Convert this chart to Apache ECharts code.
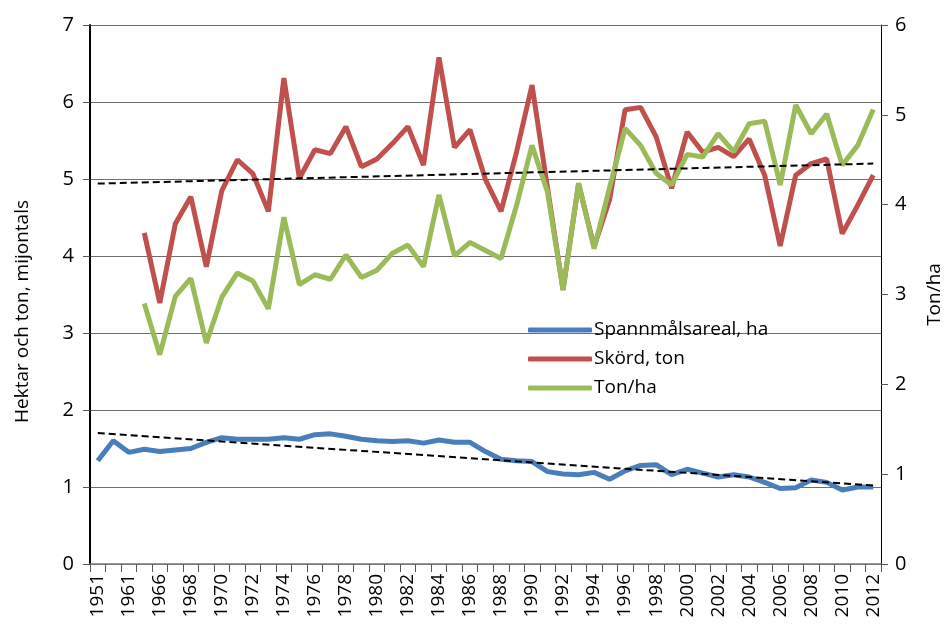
<!DOCTYPE html>
<html>
<head>
<meta charset="utf-8">
<script src="https://cdn.jsdelivr.net/npm/echarts@6/dist/echarts.min.js"></script>
<style>
  html, body { margin: 0; padding: 0; background: #fff; }
  #chart { width: 946px; height: 624px; }
</style>
</head>
<body>
<div id="chart"></div>
<script>
// years on the x axis (only every second label is shown)
var years = ['1951', '1956', '1961', '1965', '1966', '1967', '1968', '1969', '1970', '1971',
  '1972', '1973', '1974', '1975', '1976', '1977', '1978', '1979', '1980', '1981',
  '1982', '1983', '1984', '1985', '1986', '1987', '1988', '1989', '1990', '1991',
  '1992', '1993', '1994', '1995', '1996', '1997', '1998', '1999', '2000', '2001',
  '2002', '2003', '2004', '2005', '2006', '2007', '2008', '2009', '2010', '2011', '2012'];

// Spannmålsareal, ha (miljoner) - left axis
var areal = [1.34, 1.60, 1.45, 1.49, 1.46, 1.48, 1.50, 1.58, 1.64, 1.62,
  1.62, 1.62, 1.64, 1.62, 1.68, 1.69, 1.66, 1.62, 1.60, 1.59,
  1.60, 1.57, 1.61, 1.58, 1.58, 1.46, 1.36, 1.34, 1.33, 1.20,
  1.17, 1.16, 1.19, 1.10, 1.21, 1.28, 1.29, 1.16, 1.23, 1.18,
  1.13, 1.16, 1.13, 1.06, 0.98, 0.99, 1.09, 1.06, 0.96, 1.00, 1.00];

// Skörd, ton (miljoner) - left axis
var skord = [null, null, null, 4.30, 3.39, 4.42, 4.77, 3.86, 4.85, 5.25,
  5.07, 4.58, 6.31, 5.01, 5.38, 5.33, 5.68, 5.16, 5.26, 5.46,
  5.68, 5.18, 6.58, 5.41, 5.64, 4.99, 4.58, 5.35, 6.22, 4.88,
  3.56, 4.94, 4.12, 4.73, 5.90, 5.93, 5.55, 4.88, 5.61, 5.35,
  5.41, 5.29, 5.52, 5.05, 4.13, 5.05, 5.20, 5.26, 4.29, 4.66, 5.05];

// Ton/ha - right axis
var tonha = [null, null, null, 2.90, 2.33, 2.98, 3.18, 2.46, 2.97, 3.24,
  3.15, 2.84, 3.86, 3.11, 3.22, 3.17, 3.44, 3.19, 3.27, 3.46,
  3.55, 3.31, 4.11, 3.43, 3.58, 3.49, 3.40, 3.99, 4.66, 4.14,
  3.05, 4.24, 3.51, 4.19, 4.85, 4.66, 4.35, 4.22, 4.56, 4.53,
  4.79, 4.59, 4.90, 4.93, 4.22, 5.11, 4.79, 5.01, 4.44, 4.66, 5.06];

// linear trend lines, start and end values
var trendSkord = [['1951', 4.94], ['2012', 5.20]];
var trendAreal = [['1951', 1.70], ['2012', 1.02]];

var leftTicks = [0, 7, 1];
var rightTicks = [0, 6, 1];

var font = "'Open Sans', sans-serif";

var chart = echarts.init(document.getElementById('chart'));
chart.setOption({
  animation: false,
  backgroundColor: '#fff',
  textStyle: { fontFamily: font, color: '#000' },
  grid: { left: 90, right: 65, top: 25, bottom: 60, outerBoundsMode: 'none' },
  legend: {
    orient: 'vertical',
    left: 523,
    top: 315,
    icon: 'roundRect',
    itemWidth: 64,
    itemHeight: 5,
    itemGap: 9,
    data: ['Spannmålsareal, ha', 'Skörd, ton', 'Ton/ha'],
    textStyle: { fontFamily: font, fontSize: 19, color: '#000', lineHeight: 20, padding: [0, 0, 0, -3] }
  },
  xAxis: {
    type: 'category',
    data: years,
    boundaryGap: true,
    axisLine: { lineStyle: { color: '#7a7a7a', width: 1.5 } },
    axisTick: { show: true, interval: 0, length: 8, lineStyle: { color: '#555' } },
    axisLabel: { interval: 1, rotate: 90, fontSize: 19, color: '#000', margin: 10, fontFamily: font }
  },
  yAxis: [
    {
      type: 'value',
      min: leftTicks[0], max: leftTicks[1], interval: leftTicks[2],
      name: 'Hektar och ton, mijontals',
      nameLocation: 'middle',
      nameGap: 58,
      nameTextStyle: { fontSize: 19, color: '#000', fontFamily: font, padding: [0, 34, 0, 0] },
      axisLine: { show: true, lineStyle: { color: '#000', width: 2 } },
      axisTick: { show: true, length: 7, lineStyle: { color: '#555' } },
      axisLabel: { fontSize: 20, color: '#000', margin: 16, fontFamily: font },
      splitLine: { show: true, lineStyle: { color: '#6e6e6e', width: 1.2 } }
    },
    {
      type: 'value',
      position: 'right',
      min: rightTicks[0], max: rightTicks[1], interval: rightTicks[2],
      name: 'Ton/ha',
      nameLocation: 'middle',
      nameGap: 44,
      nameTextStyle: { fontSize: 19, color: '#000', fontFamily: font },
      axisLine: { show: true, lineStyle: { color: '#000', width: 1 } },
      axisTick: { show: true, length: 7, lineStyle: { color: '#555' } },
      axisLabel: { fontSize: 20, color: '#000', margin: 14, fontFamily: font },
      splitLine: { show: false }
    }
  ],
  series: [
    {
      name: 'Spannmålsareal, ha',
      type: 'line',
      yAxisIndex: 0,
      data: areal,
      symbol: 'none',
      lineStyle: { color: '#4a7ebb', width: 5 },
      itemStyle: { color: '#4a7ebb' }
    },
    {
      name: 'Skörd, ton',
      type: 'line',
      yAxisIndex: 0,
      data: skord,
      symbol: 'none',
      lineStyle: { color: '#c0504d', width: 5 },
      itemStyle: { color: '#c0504d' }
    },
    {
      name: 'Ton/ha',
      type: 'line',
      yAxisIndex: 1,
      data: tonha,
      symbol: 'none',
      lineStyle: { color: '#9bbb59', width: 5 },
      itemStyle: { color: '#9bbb59' }
    },
    {
      name: 'trend skörd',
      type: 'line',
      yAxisIndex: 0,
      data: trendSkord,
      symbol: 'none',
      z: 5,
      lineStyle: { color: '#000', width: 2, type: [7, 4] }
    },
    {
      name: 'trend areal',
      type: 'line',
      yAxisIndex: 0,
      data: trendAreal,
      symbol: 'none',
      z: 5,
      lineStyle: { color: '#000', width: 2, type: [7, 4] }
    }
  ]
});
</script>
</body>
</html>
